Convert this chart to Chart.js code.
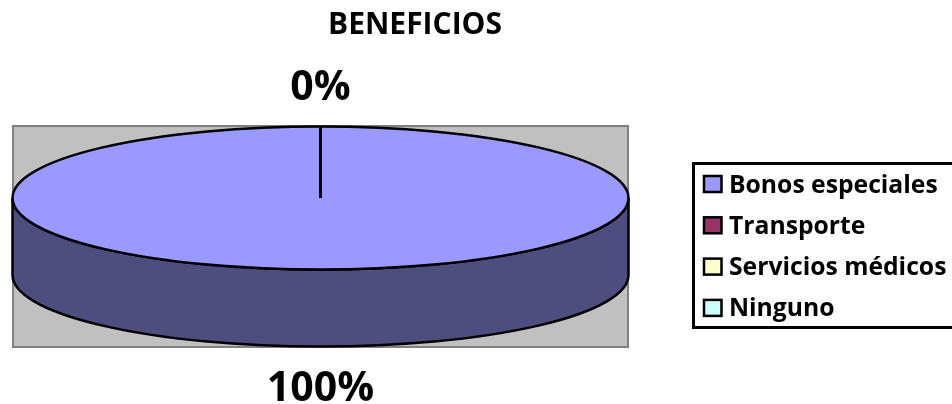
<!DOCTYPE html>
<html>
<head>
<meta charset="utf-8">
<title>BENEFICIOS</title>
<script src="https://cdn.jsdelivr.net/npm/chart.js@4"></script>
<style>
    html, body { margin: 0; padding: 0; background: #fff; }
    canvas { display: block; }
</style>
</head>
<body>
<canvas id="benefits-chart" width="952" height="404"></canvas>
<script>
// --- Data ---
const chartTitle = 'BENEFICIOS';
const categories = ['Bonos especiales', 'Transporte', 'Servicios médicos', 'Ninguno'];
const values = [100, 0, 0, 0];
const sliceColors = ['#9999FF', '#993366', '#FFFFCC', '#CCFFFF'];
const wallColors = ['#4D4D80', '#4D1A33', '#808066', '#668080'];

// --- Fake 3D settings ---
const TILT = 0.2325;   // flattens the circle into the ellipse
const DEPTH = 77;      // height of the pie wall
const FONT = '"Open Sans", "Noto Sans", sans-serif';

function topEllipse(chart) {
    const arc = chart.getDatasetMeta(0).data[0];
    return { x: arc.x, y: arc.y - DEPTH / 2, rx: arc.outerRadius, ry: arc.outerRadius * TILT, centerY: arc.y };
}

const pie3d = {
    id: 'pie3d',
    beforeDatasetsDraw(chart) {
        const { ctx, chartArea: a } = chart;
        const e = topEllipse(chart);

        // Grey plot area
        ctx.fillStyle = '#C0C0C0';
        ctx.strokeStyle = '#808080';
        ctx.lineWidth = 2;
        ctx.fillRect(a.left, a.top, a.width, a.height);
        ctx.strokeRect(a.left, a.top, a.width, a.height);

        // Front wall
        ctx.beginPath();
        ctx.ellipse(e.x, e.y + DEPTH, e.rx, e.ry, 0, 0, Math.PI);
        ctx.lineTo(e.x - e.rx, e.y);
        ctx.ellipse(e.x, e.y, e.rx, e.ry, 0, Math.PI, 0, true);
        ctx.closePath();
        ctx.fillStyle = wallColors[0];
        ctx.fill();
        ctx.strokeStyle = '#000';
        ctx.lineWidth = 2.5;
        ctx.stroke();

        // The library's arcs get squashed by this transform
        ctx.save();
        ctx.translate(0, e.y);
        ctx.scale(1, TILT);
        ctx.translate(0, -e.centerY);
    },
    afterDatasetsDraw(chart) {
        const { ctx } = chart;
        ctx.restore();
        const e = topEllipse(chart);

        // Outline of the top face
        ctx.strokeStyle = '#000';
        ctx.lineWidth = 2.5;
        ctx.beginPath();
        ctx.ellipse(e.x, e.y, e.rx, e.ry, 0, 0, Math.PI * 2);
        ctx.stroke();

        // Slice edges and percent labels
        const seen = new Set();
        ctx.fillStyle = '#000';
        ctx.textAlign = 'center';
        ctx.textBaseline = 'middle';
        ctx.font = 'bold 41px ' + FONT;
        chart.getDatasetMeta(0).data.forEach((arc, i) => {
            const start = arc.startAngle;
            ctx.beginPath();
            ctx.moveTo(e.x, e.y);
            ctx.lineTo(e.x + Math.cos(start) * e.rx, e.y + Math.sin(start) * e.ry);
            ctx.stroke();

            const mid = (arc.startAngle + arc.endAngle) / 2;
            const sin = Math.sin(mid);
            const total = values.reduce((s, v) => s + v, 0);
            const label = Math.round(values[i] / total * 100) + '%';
            const key = label + mid.toFixed(3);
            if (seen.has(key)) return;
            seen.add(key);
            const lx = e.x + Math.cos(mid) * e.rx;
            const ly = e.y + sin * e.ry + (sin > 0 ? DEPTH + 43 : -38);
            ctx.fillText(label, lx, ly);
        });
    },
    afterDraw(chart) {
        const { ctx } = chart;

        // Title
        ctx.fillStyle = '#000';
        ctx.textAlign = 'center';
        ctx.textBaseline = 'middle';
        ctx.font = 'bold 30px ' + FONT;
        ctx.fillText(chartTitle, 415, 25);

        // Legend
        ctx.strokeStyle = '#000';
        ctx.lineWidth = 3;
        ctx.strokeRect(693.5, 163.5, 270, 164);
        ctx.textAlign = 'left';
        ctx.font = 'bold 24.7px ' + FONT;
        categories.forEach((name, i) => {
            const y = 184 + i * 41.3;
            ctx.fillStyle = sliceColors[i];
            ctx.lineWidth = 2.5;
            ctx.fillRect(704, y - 8, 17.5, 16);
            ctx.strokeRect(704, y - 8, 17.5, 16);
            ctx.fillStyle = '#000';
            ctx.fillText(name, 729, y + 1.5);
        });
    }
};

new Chart(document.getElementById('benefits-chart'), {
    type: 'pie',
    data: {
        labels: categories,
        datasets: [{
            data: values,
            backgroundColor: sliceColors,
            borderWidth: 0
        }]
    },
    options: {
        responsive: false,
        animation: false,
        radius: 308,
        layout: { padding: { left: 13, right: 324, top: 126, bottom: 57 } },
        plugins: { legend: { display: false }, title: { display: false }, tooltip: { enabled: false } }
    },
    plugins: [pie3d]
});
</script>
</body>
</html>
